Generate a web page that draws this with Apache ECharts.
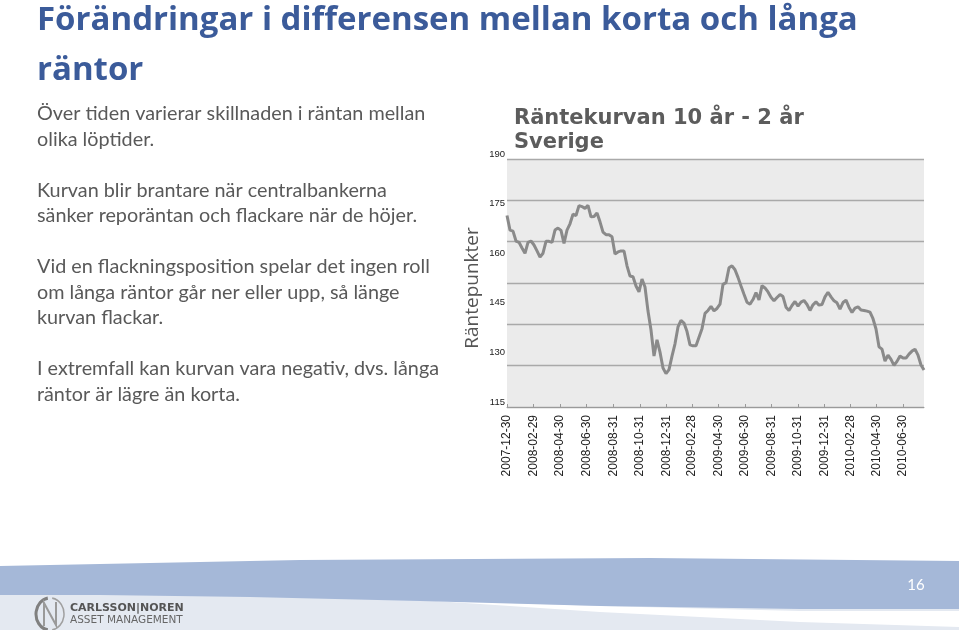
<!DOCTYPE html>
<html>
<head>
<meta charset="utf-8">
<script src="https://cdn.jsdelivr.net/npm/echarts@6/dist/echarts.min.js"></script>
<style>
html,body{margin:0;padding:0;background:#fff;}
#chart{width:959px;height:630px;}
</style>
</head>
<body>
<div id="chart"></div>
<script>
// ---- data ----
const chartTitle = 'Räntekurvan 10 år - 2 år\nSverige';
const yAxisName = 'Räntepunkter';
const yTickValues = [115, 130, 145, 160, 175, 190];
const tickDates = ['2007-12-30','2008-02-29','2008-04-30','2008-06-30','2008-08-31','2008-10-31',
  '2008-12-31','2009-02-28','2009-04-30','2009-06-30','2009-08-31','2009-10-31','2009-12-31',
  '2010-02-28','2010-04-30','2010-06-30'];
const firstDate = '2007-12-30';
const lastDate = '2010-08-17';
// weekly spread 10y - 2y, basis points
const spreadBp = [
  172.9,168.5,168.2,165.2,164.8,163.1,161.5,164.8,165.2,164.0,
  162.2,160.3,161.5,165.1,165.1,164.8,168.5,169.1,168.4,164.5,
  168.5,170.4,173.3,172.9,175.9,175.6,175.0,176.0,172.5,172.6,
  173.7,171.0,167.9,167.1,167.1,166.5,161.3,161.9,162.2,162.2,
  157.7,154.6,154.4,151.6,149.8,153.7,151.3,144.0,138.3,130.4,
  135.3,131.6,126.8,125.1,126.3,130.4,134.1,139.2,141.2,140.4,
  137.8,133.8,133.5,133.5,136.1,138.7,143.3,144.2,145.4,144.1,
  144.8,146.1,152.1,152.6,157.1,157.7,156.5,154.2,151.6,149.1,
  146.7,146.1,147.5,149.6,147.4,151.7,151.0,149.8,148.2,147.1,
  148.1,149.0,148.4,145.2,144.2,145.7,146.9,145.5,146.7,147.2,
  146.0,144.2,145.9,146.8,145.8,146.0,148.3,149.7,148.3,147.1,
  146.5,144.6,146.6,147.3,145.2,143.6,144.9,145.3,144.3,144.2,
  144.0,143.7,141.7,138.6,133.2,132.5,128.9,130.7,129.4,127.6,
  128.8,130.4,129.8,129.8,131.0,131.9,132.5,130.7,127.7,126.2
];
const weekIndex = spreadBp.map((_, i) => String(i));

const slideTitle = 'Förändringar i differensen mellan korta och långa\nräntor';
const bodyLines = [
  'Över tiden varierar skillnaden i räntan mellan',
  'olika löptider.',
  '',
  'Kurvan blir brantare när centralbankerna',
  'sänker reporäntan och flackare när de höjer.',
  '',
  'Vid en flackningsposition spelar det ingen roll',
  'om långa räntor går ner eller upp, så länge',
  'kurvan flackar.',
  '',
  'I extremfall kan kurvan vara negativ, dvs. långa',
  'räntor är lägre än korta.'
];
const pageNumber = '16';
const logoLine1 = 'CARLSSON|NOREN';
const logoLine2 = 'ASSET MANAGEMENT';

// ---- chart ----
const chart = echarts.init(document.getElementById('chart'), null, {renderer: 'canvas'});
const tickTimes = tickDates.map(d => +echarts.time.parse(d));

const option = {
  backgroundColor: '#ffffff',
  animation: false,
  title: {
    text: chartTitle,
    left: 509, top: 102,
    textStyle: {fontFamily: 'DejaVu Sans', fontWeight: 'bold', fontSize: 21, lineHeight: 24, color: '#5c5c5c'}
  },
  grid: {
    left: 507, right: 35, top: 159, bottom: 223,
    show: true, backgroundColor: '#ebebeb', borderWidth: 0
  },
  xAxis: [
    {
      type: 'category', data: weekIndex, boundaryGap: false, show: false, position: 'bottom'
    },
    {
      type: 'value', position: 'bottom',
      min: +echarts.time.parse(firstDate), max: +echarts.time.parse(lastDate),
      axisLine: {show: true, onZero: false, lineStyle: {color: '#9a9a9a', width: 1}},
      axisTick: {show: true, inside: true, length: 3, customValues: tickTimes, lineStyle: {color: '#9a9a9a'}},
      axisLabel: {
        customValues: tickTimes, rotate: 90, margin: 8,
        fontFamily: 'Liberation Sans', fontSize: 12, color: '#222',
        formatter: v => echarts.time.format(v, '{yyyy}-{MM}-{dd}', false)
      },
      splitLine: {show: false}
    }
  ],
  yAxis: [
    {
      type: 'value', min: 115, max: 190, interval: 15,
      name: yAxisName, nameLocation: 'middle', nameGap: 25, nameRotate: 90,
      nameTextStyle: {fontFamily: 'Open Sans', fontSize: 19, color: '#555', padding: [0, 10, 0, 0]},
      axisLine: {show: false}, axisTick: {show: false},
      axisLabel: {
        margin: 2, verticalAlign: 'bottom',
        fontFamily: 'Liberation Sans', fontSize: 9.5, color: '#222'
      },
      splitLine: {show: false}
    },
    {
      type: 'value', min: 0, max: 6, interval: 1, position: 'right',
      axisLine: {show: false}, axisTick: {show: false}, axisLabel: {show: false},
      splitLine: {show: true, lineStyle: {color: '#a9a9a9', width: 1.3}}
    }
  ],
  series: [{
    type: 'line', xAxisIndex: 0, yAxisIndex: 0,
    data: spreadBp, showSymbol: false, symbol: 'none',
    lineStyle: {color: '#8a8a8a', width: 3}, z: 5
  }],
  graphic: [
    {type: 'text', x: 37, y: -4, z: 10,
     style: {text: slideTitle, fontFamily: 'Open Sans', fontWeight: 'bold', fontSize: 33, lineHeight: 50,
             fill: '#3b5b9a', verticalAlign: 'top', align: 'left'}},
    {type: 'text', x: 37, y: 101, z: 10,
     style: {text: bodyLines.join('\n'), fontFamily: 'Lato', fontSize: 19.8, lineHeight: 25.5,
             fill: '#595959', verticalAlign: 'top', align: 'left'}},
    {type: 'rect', shape: {x: 0, y: 588, width: 959, height: 42}, style: {fill: '#e4e9f1'}, z: 1},
    {type: 'polygon', z: 2,
     shape: {points: [[420, 600], [600, 606], [800, 611], [959, 611], [959, 627], [800, 622], [600, 612]]},
     style: {fill: '#ffffff'}},
    {type: 'polygon', z: 3,
     shape: {points: [[0, 566], [300, 560], [650, 558], [959, 561], [959, 609], [800, 609], [600, 606],
                      [420, 601], [250, 597], [100, 595], [0, 595]]},
     style: {fill: '#a5b8d8'}},
    {type: 'text', x: 916, y: 585, z: 10,
     style: {text: pageNumber, fontFamily: 'Lato', fontSize: 15, fill: '#ffffff', align: 'center', verticalAlign: 'middle'}},
    {type: 'arc', z: 10, shape: {cx: 50, cy: 614, r: 14, startAngle: Math.PI * 0.55, endAngle: Math.PI * 1.45},
     scaleY: 1.15, originX: 50, originY: 614,
     style: {fill: 'none', stroke: '#808080', lineWidth: 3}},
    {type: 'arc', z: 10, shape: {cx: 50, cy: 614, r: 14, startAngle: -Math.PI * 0.45, endAngle: Math.PI * 0.45},
     scaleY: 1.15, originX: 50, originY: 614,
     style: {fill: 'none', stroke: '#a0a0a0', lineWidth: 1.5}},
    {type: 'polyline', z: 10, shape: {points: [[44, 626], [44, 603], [56, 625], [56, 602]]},
     style: {fill: 'none', stroke: '#9a9a9a', lineWidth: 2}},
    {type: 'text', x: 70, y: 608.5, z: 10,
     style: {text: logoLine1, fontFamily: 'DejaVu Sans', fontWeight: 'bold', fontSize: 11, fill: '#555',
             verticalAlign: 'middle', align: 'left'}},
    {type: 'text', x: 70, y: 620.5, z: 10,
     style: {text: logoLine2, fontFamily: 'DejaVu Sans', fontSize: 10.5, fill: '#666',
             verticalAlign: 'middle', align: 'left'}}
  ]
};
chart.setOption(option);
</script>
</body>
</html>
